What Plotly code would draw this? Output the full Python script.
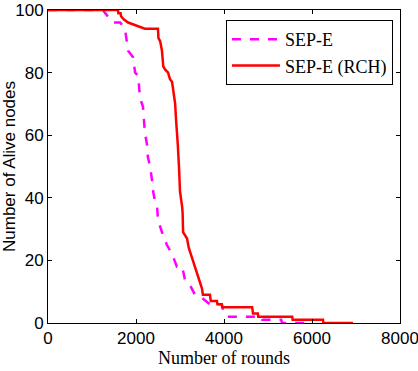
import plotly.graph_objects as go

# Data: corner points of the alive-node curves
sep_e_x = [0, 1250, 1300, 1480, 1640, 1750, 1820, 1930, 1980, 2050, 2090, 2160, 2200, 2250,
           2270, 2320, 2360, 2390, 2430, 2480, 2500, 2590, 2700, 2820, 2930, 3050, 3110, 3230,
           3340, 3500, 3680, 3950, 3980, 4070, 4850, 4870, 5300, 5320, 5950]
sep_e_y = [100, 100, 99, 96, 96, 94, 87, 85, 80, 79, 72, 69, 61, 57,
           53, 50, 46, 42, 39, 37, 33, 29, 25, 22, 18, 18, 14, 12,
           9, 8, 6, 6, 4, 2, 2, 1, 1, 0, 0]

rch_x = [0, 1590, 1600, 1650, 1660, 1720, 1820, 2020, 2200, 2500, 2510, 2550, 2590, 2620,
         2660, 2730, 2770, 2820, 2850, 2890, 2910, 2930, 2950, 2980, 3000, 3050, 3060, 3070,
         3160, 3200, 3270, 3340, 3410, 3500, 3520, 3680, 3700, 3840, 3850, 3950, 3960, 4640,
         4660, 4770, 4780, 5550, 5560, 6250, 6260, 6930]
rch_y = [100, 100, 99, 99, 98, 97, 96, 95, 94, 94, 91, 90, 87, 82,
         81, 80, 78, 77, 74, 70, 65, 62, 57, 49, 42, 37, 35, 29,
         27, 24, 21, 18, 15, 11, 9, 9, 7, 7, 6, 6, 5, 5,
         3, 3, 2, 2, 1, 1, 0, 0]

x_ticks = [0, 2000, 4000, 6000, 8000]
y_ticks = [0, 20, 40, 60, 80, 100]

fig = go.Figure()
fig.add_trace(go.Scatter(x=sep_e_x, y=sep_e_y, mode="lines", name="SEP-E",
                         line=dict(color="#FF00FF", width=2.5, dash="dash")))
fig.add_trace(go.Scatter(x=rch_x, y=rch_y, mode="lines", name="SEP-E (RCH)",
                         line=dict(color="#FF0000", width=2.5)))

axis_common = dict(showgrid=False, zeroline=False, showline=True, linecolor="black",
                   linewidth=1, mirror="allticks", ticks="inside", ticklen=4,
                   tickcolor="black", automargin=False, ticklabeloverflow="allow",
                   tickfont=dict(family="Liberation Sans, Arial, sans-serif", size=17, color="black"))

fig.update_xaxes(range=[0, 8000], tickvals=x_ticks, ticktext=[str(v) for v in x_ticks],
                 title=dict(text="Number of rounds", standoff=0,
                            font=dict(family="Liberation Serif, Times New Roman, serif", size=18, color="black")),
                 **axis_common)
fig.update_yaxes(range=[0, 100], tickvals=y_ticks, ticktext=[str(v) for v in y_ticks],
                 title=dict(text="Number of Alive nodes", standoff=0,
                            font=dict(family="Liberation Sans, Arial, sans-serif", size=17, color="black")),
                 **axis_common)

fig.update_layout(
    width=418, height=371,
    margin=dict(l=48, r=18, t=10, b=48),
    plot_bgcolor="white", paper_bgcolor="white",
    showlegend=True,
    legend=dict(x=0.98, y=0.968, xanchor="right", yanchor="top",
                bgcolor="white", bordercolor="black", borderwidth=1,
                itemwidth=48,
                font=dict(family="Liberation Serif, Times New Roman, serif", size=18, color="black"),
                tracegroupgap=0),
)

fig.write_html("out.html", config={"displayModeBar": False},
               post_script="document.body.style.margin='0';document.body.style.padding='0';document.body.style.overflow='hidden';")
